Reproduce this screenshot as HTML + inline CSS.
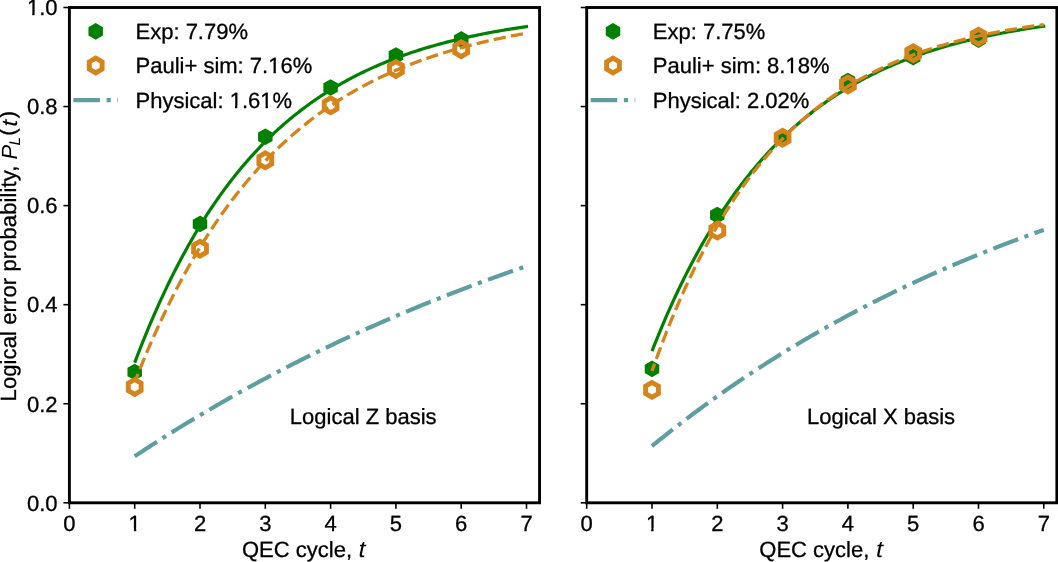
<!DOCTYPE html>
<html><head><meta charset="utf-8"><title>Logical error probability vs QEC cycle</title><style>
html,body{margin:0;padding:0;background:#fff;overflow:hidden;}
#wrap{width:1058px;height:562px;will-change:transform;}
svg{display:block;}
text{font-family:"Liberation Sans", sans-serif;font-size:22px;fill:#000;text-rendering:geometricPrecision;stroke:#000;stroke-width:0.3px;}
text.m{stroke-width:0.0px;}
</style></head><body><div id="wrap">
<svg width="1058" height="562" viewBox="0 0 1058 562">
<rect width="1058" height="562" fill="#fff"/>
<defs><clipPath id="c1_0" clipPathUnits="userSpaceOnUse"><path d="M-2000,-2000 H2000 V2000 H-2000 Z M133.26,-2.45 H138.02 V1.8 H133.26 Z M140.31,-2.45 H144.86 V1.8 H140.31 Z" clip-rule="evenodd"/></clipPath><clipPath id="c1_1" clipPathUnits="userSpaceOnUse"><path d="M-2000,-2000 H2000 V2000 H-2000 Z M94.74,-2.45 H99.50 V1.8 H94.74 Z M101.79,-2.45 H106.34 V1.8 H101.79 Z M125.32,-2.45 H130.08 V1.8 H125.32 Z M132.37,-2.45 H136.92 V1.8 H132.37 Z" clip-rule="evenodd"/></clipPath><clipPath id="c1_2" clipPathUnits="userSpaceOnUse"><path d="M-2000,-2000 H2000 V2000 H-2000 Z M-5.53,-2.45 H-0.76 V1.8 H-5.53 Z M1.53,-2.45 H6.07 V1.8 H1.53 Z" clip-rule="evenodd"/></clipPath><clipPath id="c1_3" clipPathUnits="userSpaceOnUse"><path d="M-2000,-2000 H2000 V2000 H-2000 Z M-29.99,-2.45 H-25.23 V1.8 H-29.99 Z M-22.94,-2.45 H-18.39 V1.8 H-22.94 Z" clip-rule="evenodd"/></clipPath><clipPath id="c1_4" clipPathUnits="userSpaceOnUse"><path d="M-2000,-2000 H2000 V2000 H-2000 Z M133.26,-2.45 H138.02 V1.8 H133.26 Z M140.31,-2.45 H144.86 V1.8 H140.31 Z" clip-rule="evenodd"/></clipPath></defs>
<!-- panel Logical Z basis -->
<path d="M134.70,362.69 L136.34,358.38 L137.98,354.11 L139.62,349.90 L141.25,345.75 L142.89,341.64 L144.53,337.58 L146.17,333.57 L147.81,329.61 L149.45,325.70 L151.09,321.83 L152.73,318.01 L154.37,314.24 L156.00,310.52 L157.64,306.84 L159.28,303.20 L160.92,299.61 L162.56,296.06 L164.20,292.56 L165.84,289.09 L167.48,285.67 L169.11,282.30 L170.75,278.96 L172.39,275.66 L174.03,272.40 L175.67,269.19 L177.31,266.01 L178.95,262.87 L180.58,259.77 L182.22,256.70 L183.86,253.68 L185.50,250.69 L187.14,247.73 L188.78,244.81 L190.42,241.93 L192.06,239.08 L193.69,236.27 L195.33,233.49 L196.97,230.75 L198.61,228.04 L200.25,225.36 L201.89,222.71 L203.53,220.10 L205.17,217.52 L206.81,214.96 L208.44,212.45 L210.08,209.96 L211.72,207.50 L213.36,205.07 L215.00,202.67 L216.64,200.30 L218.28,197.96 L219.91,195.64 L221.55,193.36 L223.19,191.10 L224.83,188.87 L226.47,186.67 L228.11,184.49 L229.75,182.34 L231.39,180.22 L233.03,178.12 L234.66,176.05 L236.30,174.00 L237.94,171.98 L239.58,169.98 L241.22,168.01 L242.86,166.06 L244.50,164.13 L246.14,162.23 L247.77,160.35 L249.41,158.49 L251.05,156.66 L252.69,154.85 L254.33,153.06 L255.97,151.29 L257.61,149.54 L259.25,147.82 L260.88,146.11 L262.52,144.43 L264.16,142.77 L265.80,141.12 L267.44,139.50 L269.08,137.90 L270.72,136.31 L272.36,134.75 L273.99,133.20 L275.63,131.68 L277.27,130.17 L278.91,128.68 L280.55,127.21 L282.19,125.75 L283.83,124.32 L285.47,122.90 L287.10,121.50 L288.74,120.11 L290.38,118.74 L292.02,117.39 L293.66,116.06 L295.30,114.74 L296.94,113.44 L298.57,112.15 L300.21,110.88 L301.85,109.62 L303.49,108.38 L305.13,107.16 L306.77,105.95 L308.41,104.75 L310.05,103.57 L311.69,102.40 L313.32,101.25 L314.96,100.11 L316.60,98.99 L318.24,97.88 L319.88,96.78 L321.52,95.69 L323.16,94.62 L324.79,93.57 L326.43,92.52 L328.07,91.49 L329.71,90.47 L331.35,89.46 L332.99,88.46 L334.63,87.48 L336.27,86.51 L337.90,85.55 L339.54,84.60 L341.18,83.66 L342.82,82.74 L344.46,81.83 L346.10,80.92 L347.74,80.03 L349.38,79.15 L351.01,78.28 L352.65,77.42 L354.29,76.57 L355.93,75.73 L357.57,74.90 L359.21,74.08 L360.85,73.28 L362.49,72.48 L364.12,71.69 L365.76,70.91 L367.40,70.14 L369.04,69.38 L370.68,68.63 L372.32,67.88 L373.96,67.15 L375.60,66.43 L377.24,65.71 L378.87,65.00 L380.51,64.30 L382.15,63.61 L383.79,62.93 L385.43,62.26 L387.07,61.59 L388.71,60.94 L390.35,60.29 L391.98,59.65 L393.62,59.01 L395.26,58.39 L396.90,57.77 L398.54,57.16 L400.18,56.56 L401.82,55.96 L403.46,55.37 L405.09,54.79 L406.73,54.22 L408.37,53.65 L410.01,53.09 L411.65,52.53 L413.29,51.99 L414.93,51.45 L416.57,50.91 L418.20,50.39 L419.84,49.87 L421.48,49.35 L423.12,48.84 L424.76,48.34 L426.40,47.84 L428.04,47.35 L429.68,46.87 L431.31,46.39 L432.95,45.92 L434.59,45.45 L436.23,44.99 L437.87,44.54 L439.51,44.09 L441.15,43.64 L442.79,43.20 L444.42,42.77 L446.06,42.34 L447.70,41.92 L449.34,41.50 L450.98,41.09 L452.62,40.68 L454.26,40.28 L455.89,39.88 L457.53,39.48 L459.17,39.10 L460.81,38.71 L462.45,38.33 L464.09,37.96 L465.73,37.59 L467.37,37.22 L469.00,36.86 L470.64,36.51 L472.28,36.15 L473.92,35.81 L475.56,35.46 L477.20,35.12 L478.84,34.79 L480.48,34.46 L482.12,34.13 L483.75,33.80 L485.39,33.48 L487.03,33.17 L488.67,32.86 L490.31,32.55 L491.95,32.25 L493.59,31.94 L495.23,31.65 L496.86,31.35 L498.50,31.06 L500.14,30.78 L501.78,30.50 L503.42,30.22 L505.06,29.94 L506.70,29.67 L508.33,29.40 L509.97,29.13 L511.61,28.87 L513.25,28.61 L514.89,28.35 L516.53,28.10 L518.17,27.85 L519.81,27.60 L521.44,27.36 L523.08,27.12 L524.72,26.88 L526.36,26.64 L528.00,26.41" fill="none" stroke="#008000" stroke-width="3.2" stroke-linecap="butt" stroke-linejoin="round"/>
<path d="M134.70,364.79 L128.46,368.39 L128.46,375.59 L134.70,379.19 L140.94,375.59 L140.94,368.39 Z" fill="#008000" stroke="#008000" stroke-width="2.0"/>
<path d="M200.00,216.75 L193.76,220.35 L193.76,227.55 L200.00,231.15 L206.24,227.55 L206.24,220.35 Z" fill="#008000" stroke="#008000" stroke-width="2.0"/>
<path d="M265.30,129.57 L259.06,133.17 L259.06,140.37 L265.30,143.97 L271.54,140.37 L271.54,133.17 Z" fill="#008000" stroke="#008000" stroke-width="2.0"/>
<path d="M330.60,80.29 L324.36,83.89 L324.36,91.09 L330.60,94.69 L336.84,91.09 L336.84,83.89 Z" fill="#008000" stroke="#008000" stroke-width="2.0"/>
<path d="M395.90,48.34 L389.66,51.94 L389.66,59.14 L395.90,62.74 L402.14,59.14 L402.14,51.94 Z" fill="#008000" stroke="#008000" stroke-width="2.0"/>
<path d="M461.20,32.25 L454.96,35.85 L454.96,43.05 L461.20,46.65 L467.44,43.05 L467.44,35.85 Z" fill="#008000" stroke="#008000" stroke-width="2.0"/>
<path d="M134.70,379.50 L128.29,383.20 L128.29,390.60 L134.70,394.30 L141.11,390.60 L141.11,383.20 Z" fill="none" stroke="#d5831a" stroke-width="4.9"/>
<path d="M200.00,241.31 L193.59,245.01 L193.59,252.41 L200.00,256.11 L206.41,252.41 L206.41,245.01 Z" fill="none" stroke="#d5831a" stroke-width="4.9"/>
<path d="M265.30,152.90 L258.89,156.60 L258.89,164.00 L265.30,167.70 L271.71,164.00 L271.71,156.60 Z" fill="none" stroke="#d5831a" stroke-width="4.9"/>
<path d="M330.60,97.92 L324.19,101.62 L324.19,109.02 L330.60,112.72 L337.01,109.02 L337.01,101.62 Z" fill="none" stroke="#d5831a" stroke-width="4.9"/>
<path d="M395.90,61.52 L389.49,65.22 L389.49,72.62 L395.90,76.32 L402.31,72.62 L402.31,65.22 Z" fill="none" stroke="#d5831a" stroke-width="4.9"/>
<path d="M461.20,41.80 L454.79,45.50 L454.79,52.90 L461.20,56.60 L467.61,52.90 L467.61,45.50 Z" fill="none" stroke="#d5831a" stroke-width="4.9"/>
<path d="M134.70,382.18 L136.33,378.03 L137.97,373.92 L139.60,369.85 L141.23,365.83 L142.86,361.85 L144.50,357.92 L146.13,354.04 L147.76,350.19 L149.39,346.39 L151.03,342.63 L152.66,338.91 L154.29,335.23 L155.92,331.60 L157.56,328.00 L159.19,324.44 L160.82,320.93 L162.45,317.45 L164.08,314.01 L165.72,310.61 L167.35,307.25 L168.98,303.92 L170.62,300.63 L172.25,297.38 L173.88,294.16 L175.51,290.98 L177.14,287.84 L178.78,284.73 L180.41,281.65 L182.04,278.61 L183.68,275.60 L185.31,272.63 L186.94,269.69 L188.57,266.78 L190.21,263.90 L191.84,261.06 L193.47,258.24 L195.10,255.46 L196.74,252.71 L198.37,249.99 L200.00,247.30 L201.63,244.64 L203.26,242.01 L204.90,239.40 L206.53,236.83 L208.16,234.29 L209.79,231.77 L211.43,229.28 L213.06,226.82 L214.69,224.39 L216.32,221.98 L217.96,219.60 L219.59,217.25 L221.22,214.92 L222.86,212.62 L224.49,210.34 L226.12,208.09 L227.75,205.87 L229.39,203.67 L231.02,201.49 L232.65,199.34 L234.28,197.21 L235.91,195.11 L237.55,193.02 L239.18,190.97 L240.81,188.93 L242.44,186.92 L244.08,184.93 L245.71,182.96 L247.34,181.01 L248.97,179.09 L250.61,177.18 L252.24,175.30 L253.87,173.44 L255.50,171.60 L257.14,169.78 L258.77,167.98 L260.40,166.19 L262.03,164.43 L263.67,162.69 L265.30,160.97 L266.93,159.27 L268.56,157.58 L270.20,155.92 L271.83,154.27 L273.46,152.64 L275.10,151.03 L276.73,149.44 L278.36,147.87 L279.99,146.31 L281.62,144.77 L283.26,143.25 L284.89,141.74 L286.52,140.25 L288.15,138.78 L289.79,137.32 L291.42,135.88 L293.05,134.46 L294.69,133.05 L296.32,131.65 L297.95,130.28 L299.58,128.91 L301.21,127.57 L302.85,126.24 L304.48,124.92 L306.11,123.61 L307.75,122.33 L309.38,121.05 L311.01,119.79 L312.64,118.55 L314.27,117.31 L315.91,116.10 L317.54,114.89 L319.17,113.70 L320.81,112.52 L322.44,111.36 L324.07,110.20 L325.70,109.06 L327.34,107.94 L328.97,106.82 L330.60,105.72 L332.23,104.63 L333.87,103.55 L335.50,102.49 L337.13,101.43 L338.76,100.39 L340.39,99.36 L342.03,98.34 L343.66,97.33 L345.29,96.34 L346.92,95.35 L348.56,94.38 L350.19,93.41 L351.82,92.46 L353.45,91.52 L355.09,90.59 L356.72,89.66 L358.35,88.75 L359.99,87.85 L361.62,86.96 L363.25,86.08 L364.88,85.21 L366.51,84.34 L368.15,83.49 L369.78,82.65 L371.41,81.81 L373.04,80.99 L374.68,80.17 L376.31,79.37 L377.94,78.57 L379.58,77.78 L381.21,77.00 L382.84,76.23 L384.47,75.47 L386.11,74.71 L387.74,73.97 L389.37,73.23 L391.00,72.50 L392.63,71.78 L394.27,71.07 L395.90,70.36 L397.53,69.66 L399.16,68.97 L400.80,68.29 L402.43,67.62 L404.06,66.95 L405.70,66.29 L407.33,65.64 L408.96,64.99 L410.59,64.36 L412.23,63.73 L413.86,63.10 L415.49,62.48 L417.12,61.87 L418.75,61.27 L420.39,60.67 L422.02,60.08 L423.65,59.50 L425.28,58.92 L426.92,58.35 L428.55,57.79 L430.18,57.23 L431.81,56.68 L433.45,56.13 L435.08,55.59 L436.71,55.06 L438.35,54.53 L439.98,54.01 L441.61,53.50 L443.24,52.98 L444.88,52.48 L446.51,51.98 L448.14,51.49 L449.77,51.00 L451.40,50.52 L453.04,50.04 L454.67,49.57 L456.30,49.10 L457.93,48.64 L459.57,48.18 L461.20,47.73 L462.83,47.29 L464.47,46.84 L466.10,46.41 L467.73,45.98 L469.36,45.55 L471.00,45.13 L472.63,44.71 L474.26,44.30 L475.89,43.89 L477.52,43.48 L479.16,43.08 L480.79,42.69 L482.42,42.30 L484.05,41.91 L485.69,41.53 L487.32,41.15 L488.95,40.78 L490.59,40.41 L492.22,40.05 L493.85,39.69 L495.48,39.33 L497.12,38.97 L498.75,38.63 L500.38,38.28 L502.01,37.94 L503.64,37.60 L505.28,37.27 L506.91,36.94 L508.54,36.61 L510.17,36.29 L511.81,35.97 L513.44,35.65 L515.07,35.34 L516.70,35.03 L518.34,34.73 L519.97,34.42 L521.60,34.12 L523.24,33.83 L524.87,33.54 L526.50,33.25" fill="none" stroke="#d5831a" stroke-width="3.3" stroke-dasharray="12.21 5.28" stroke-dashoffset="3.4" stroke-linecap="butt" stroke-linejoin="round"/>
<path d="M134.70,456.30 L136.33,455.22 L137.97,454.14 L139.60,453.06 L141.23,451.99 L142.86,450.92 L144.50,449.85 L146.13,448.78 L147.76,447.72 L149.39,446.66 L151.03,445.60 L152.66,444.55 L154.29,443.50 L155.92,442.45 L157.56,441.41 L159.19,440.36 L160.82,439.32 L162.45,438.29 L164.08,437.25 L165.72,436.22 L167.35,435.19 L168.98,434.17 L170.62,433.15 L172.25,432.13 L173.88,431.11 L175.51,430.10 L177.14,429.09 L178.78,428.08 L180.41,427.07 L182.04,426.07 L183.68,425.07 L185.31,424.07 L186.94,423.08 L188.57,422.09 L190.21,421.10 L191.84,420.11 L193.47,419.13 L195.10,418.15 L196.74,417.17 L198.37,416.20 L200.00,415.22 L201.63,414.25 L203.26,413.29 L204.90,412.32 L206.53,411.36 L208.16,410.40 L209.79,409.44 L211.43,408.49 L213.06,407.54 L214.69,406.59 L216.32,405.65 L217.96,404.70 L219.59,403.76 L221.22,402.82 L222.86,401.89 L224.49,400.96 L226.12,400.03 L227.75,399.10 L229.39,398.17 L231.02,397.25 L232.65,396.33 L234.28,395.41 L235.91,394.50 L237.55,393.59 L239.18,392.68 L240.81,391.77 L242.44,390.86 L244.08,389.96 L245.71,389.06 L247.34,388.16 L248.97,387.27 L250.61,386.38 L252.24,385.49 L253.87,384.60 L255.50,383.71 L257.14,382.83 L258.77,381.95 L260.40,381.07 L262.03,380.20 L263.67,379.33 L265.30,378.46 L266.93,377.59 L268.56,376.72 L270.20,375.86 L271.83,375.00 L273.46,374.14 L275.10,373.28 L276.73,372.43 L278.36,371.58 L279.99,370.73 L281.62,369.88 L283.26,369.04 L284.89,368.20 L286.52,367.36 L288.15,366.52 L289.79,365.69 L291.42,364.85 L293.05,364.02 L294.69,363.19 L296.32,362.37 L297.95,361.55 L299.58,360.72 L301.21,359.91 L302.85,359.09 L304.48,358.27 L306.11,357.46 L307.75,356.65 L309.38,355.85 L311.01,355.04 L312.64,354.24 L314.27,353.44 L315.91,352.64 L317.54,351.84 L319.17,351.05 L320.81,350.25 L322.44,349.46 L324.07,348.68 L325.70,347.89 L327.34,347.11 L328.97,346.33 L330.60,345.55 L332.23,344.77 L333.87,344.00 L335.50,343.22 L337.13,342.45 L338.76,341.69 L340.39,340.92 L342.03,340.16 L343.66,339.39 L345.29,338.63 L346.92,337.88 L348.56,337.12 L350.19,336.37 L351.82,335.62 L353.45,334.87 L355.09,334.12 L356.72,333.37 L358.35,332.63 L359.99,331.89 L361.62,331.15 L363.25,330.41 L364.88,329.68 L366.51,328.95 L368.15,328.22 L369.78,327.49 L371.41,326.76 L373.04,326.04 L374.68,325.31 L376.31,324.59 L377.94,323.87 L379.58,323.16 L381.21,322.44 L382.84,321.73 L384.47,321.02 L386.11,320.31 L387.74,319.60 L389.37,318.90 L391.00,318.19 L392.63,317.49 L394.27,316.79 L395.90,316.10 L397.53,315.40 L399.16,314.71 L400.80,314.02 L402.43,313.33 L404.06,312.64 L405.70,311.95 L407.33,311.27 L408.96,310.59 L410.59,309.91 L412.23,309.23 L413.86,308.55 L415.49,307.88 L417.12,307.21 L418.75,306.54 L420.39,305.87 L422.02,305.20 L423.65,304.54 L425.28,303.87 L426.92,303.21 L428.55,302.55 L430.18,301.89 L431.81,301.24 L433.45,300.58 L435.08,299.93 L436.71,299.28 L438.35,298.63 L439.98,297.99 L441.61,297.34 L443.24,296.70 L444.88,296.06 L446.51,295.42 L448.14,294.78 L449.77,294.14 L451.40,293.51 L453.04,292.87 L454.67,292.24 L456.30,291.61 L457.93,290.99 L459.57,290.36 L461.20,289.74 L462.83,289.11 L464.47,288.49 L466.10,287.88 L467.73,287.26 L469.36,286.64 L471.00,286.03 L472.63,285.42 L474.26,284.81 L475.89,284.20 L477.52,283.59 L479.16,282.99 L480.79,282.38 L482.42,281.78 L484.05,281.18 L485.69,280.58 L487.32,279.99 L488.95,279.39 L490.59,278.80 L492.22,278.20 L493.85,277.61 L495.48,277.03 L497.12,276.44 L498.75,275.85 L500.38,275.27 L502.01,274.69 L503.64,274.11 L505.28,273.53 L506.91,272.95 L508.54,272.37 L510.17,271.80 L511.81,271.23 L513.44,270.66 L515.07,270.09 L516.70,269.52 L518.34,268.95 L519.97,268.39 L521.60,267.83 L523.24,267.26 L524.87,266.70 L526.50,266.15" fill="none" stroke="#5f9ea0" stroke-width="4.15" stroke-dasharray="26.56 6.64 4.15 6.64" stroke-linecap="butt" stroke-linejoin="round"/>
<text transform="translate(289.80,423.70)">Logical Z basis</text>
<path d="M95.70,24.15 L89.46,27.75 L89.46,34.95 L95.70,38.55 L101.94,34.95 L101.94,27.75 Z" fill="#008000" stroke="#008000" stroke-width="2.0"/>
<path d="M95.70,58.10 L89.29,61.80 L89.29,69.20 L95.70,72.90 L102.11,69.20 L102.11,61.80 Z" fill="none" stroke="#d5831a" stroke-width="4.9"/>
<path d="M73.40,100.1 L118.00,100.1" fill="none" stroke="#5f9ea0" stroke-width="4.15" stroke-dasharray="26.56 6.64 4.15 6.64"/>
<text transform="translate(135.50,38.80)">Exp: 7.79%</text>
<text transform="translate(135.50,73.10)" clip-path="url(#c1_0)">Pauli+ sim: 7.16%</text>
<text transform="translate(135.50,107.90)" clip-path="url(#c1_1)">Physical: 1.61%</text>
<rect x="69.40" y="7.50" width="470.16" height="495.30" fill="none" stroke="#000" stroke-width="2.9" stroke-linejoin="miter"/>
<line x1="69.40" y1="502.80" x2="69.40" y2="508.80" stroke="#000" stroke-width="1.6"/>
<text transform="translate(69.40,530.50)" text-anchor="middle">0</text>
<line x1="134.70" y1="502.80" x2="134.70" y2="508.80" stroke="#000" stroke-width="1.6"/>
<text transform="translate(134.70,530.50)" text-anchor="middle" clip-path="url(#c1_2)">1</text>
<line x1="200.00" y1="502.80" x2="200.00" y2="508.80" stroke="#000" stroke-width="1.6"/>
<text transform="translate(200.00,530.50)" text-anchor="middle">2</text>
<line x1="265.30" y1="502.80" x2="265.30" y2="508.80" stroke="#000" stroke-width="1.6"/>
<text transform="translate(265.30,530.50)" text-anchor="middle">3</text>
<line x1="330.60" y1="502.80" x2="330.60" y2="508.80" stroke="#000" stroke-width="1.6"/>
<text transform="translate(330.60,530.50)" text-anchor="middle">4</text>
<line x1="395.90" y1="502.80" x2="395.90" y2="508.80" stroke="#000" stroke-width="1.6"/>
<text transform="translate(395.90,530.50)" text-anchor="middle">5</text>
<line x1="461.20" y1="502.80" x2="461.20" y2="508.80" stroke="#000" stroke-width="1.6"/>
<text transform="translate(461.20,530.50)" text-anchor="middle">6</text>
<line x1="526.50" y1="502.80" x2="526.50" y2="508.80" stroke="#000" stroke-width="1.6"/>
<text transform="translate(526.50,530.50)" text-anchor="middle">7</text>
<line x1="63.40" y1="502.80" x2="69.40" y2="502.80" stroke="#000" stroke-width="1.6"/>
<text transform="translate(57.50,510.60)" text-anchor="end">0.0</text>
<line x1="63.40" y1="403.74" x2="69.40" y2="403.74" stroke="#000" stroke-width="1.6"/>
<text transform="translate(57.50,411.54)" text-anchor="end">0.2</text>
<line x1="63.40" y1="304.68" x2="69.40" y2="304.68" stroke="#000" stroke-width="1.6"/>
<text transform="translate(57.50,312.48)" text-anchor="end">0.4</text>
<line x1="63.40" y1="205.62" x2="69.40" y2="205.62" stroke="#000" stroke-width="1.6"/>
<text transform="translate(57.50,213.42)" text-anchor="end">0.6</text>
<line x1="63.40" y1="106.56" x2="69.40" y2="106.56" stroke="#000" stroke-width="1.6"/>
<text transform="translate(57.50,114.36)" text-anchor="end">0.8</text>
<line x1="63.40" y1="7.50" x2="69.40" y2="7.50" stroke="#000" stroke-width="1.6"/>
<text transform="translate(57.50,15.30)" text-anchor="end" clip-path="url(#c1_3)">1.0</text>
<text transform="translate(241.98,557.00)">QEC cycle,</text>
<text transform="translate(358.58,557.00) scale(1.15,1.05)" font-style="italic" class="m">t</text>
<!-- panel Logical X basis -->
<path d="M652.00,351.05 L653.64,346.90 L655.28,342.79 L656.92,338.74 L658.56,334.74 L660.19,330.78 L661.83,326.88 L663.47,323.02 L665.11,319.20 L666.75,315.44 L668.39,311.72 L670.03,308.04 L671.67,304.41 L673.30,300.82 L674.94,297.27 L676.58,293.77 L678.22,290.31 L679.86,286.89 L681.50,283.52 L683.14,280.18 L684.78,276.89 L686.41,273.63 L688.05,270.41 L689.69,267.24 L691.33,264.10 L692.97,261.00 L694.61,257.93 L696.25,254.91 L697.88,251.92 L699.52,248.96 L701.16,246.04 L702.80,243.16 L704.44,240.31 L706.08,237.50 L707.72,234.72 L709.36,231.97 L711.00,229.26 L712.63,226.58 L714.27,223.93 L715.91,221.32 L717.55,218.73 L719.19,216.18 L720.83,213.66 L722.47,211.17 L724.11,208.71 L725.74,206.27 L727.38,203.87 L729.02,201.50 L730.66,199.15 L732.30,196.84 L733.94,194.55 L735.58,192.29 L737.22,190.06 L738.85,187.85 L740.49,185.67 L742.13,183.52 L743.77,181.39 L745.41,179.29 L747.05,177.21 L748.69,175.16 L750.33,173.13 L751.96,171.13 L753.60,169.15 L755.24,167.20 L756.88,165.27 L758.52,163.36 L760.16,161.48 L761.80,159.62 L763.44,157.78 L765.07,155.97 L766.71,154.17 L768.35,152.40 L769.99,150.65 L771.63,148.92 L773.27,147.21 L774.91,145.52 L776.55,143.85 L778.18,142.20 L779.82,140.58 L781.46,138.97 L783.10,137.38 L784.74,135.81 L786.38,134.26 L788.02,132.73 L789.65,131.21 L791.29,129.72 L792.93,128.24 L794.57,126.78 L796.21,125.34 L797.85,123.92 L799.49,122.51 L801.13,121.12 L802.77,119.75 L804.40,118.39 L806.04,117.05 L807.68,115.73 L809.32,114.42 L810.96,113.13 L812.60,111.85 L814.24,110.59 L815.88,109.34 L817.51,108.11 L819.15,106.89 L820.79,105.69 L822.43,104.51 L824.07,103.33 L825.71,102.18 L827.35,101.03 L828.99,99.90 L830.62,98.79 L832.26,97.68 L833.90,96.59 L835.54,95.52 L837.18,94.45 L838.82,93.40 L840.46,92.36 L842.10,91.34 L843.73,90.32 L845.37,89.32 L847.01,88.33 L848.65,87.36 L850.29,86.39 L851.93,85.44 L853.57,84.50 L855.21,83.57 L856.84,82.65 L858.48,81.74 L860.12,80.84 L861.76,79.95 L863.40,79.08 L865.04,78.21 L866.68,77.36 L868.32,76.52 L869.95,75.68 L871.59,74.86 L873.23,74.04 L874.87,73.24 L876.51,72.44 L878.15,71.66 L879.79,70.88 L881.42,70.12 L883.06,69.36 L884.70,68.61 L886.34,67.88 L887.98,67.15 L889.62,66.42 L891.26,65.71 L892.90,65.01 L894.54,64.31 L896.17,63.63 L897.81,62.95 L899.45,62.28 L901.09,61.62 L902.73,60.96 L904.37,60.32 L906.01,59.68 L907.64,59.05 L909.28,58.42 L910.92,57.81 L912.56,57.20 L914.20,56.60 L915.84,56.01 L917.48,55.42 L919.12,54.84 L920.76,54.27 L922.39,53.70 L924.03,53.15 L925.67,52.59 L927.31,52.05 L928.95,51.51 L930.59,50.98 L932.23,50.45 L933.87,49.93 L935.50,49.42 L937.14,48.92 L938.78,48.41 L940.42,47.92 L942.06,47.43 L943.70,46.95 L945.34,46.47 L946.98,46.00 L948.61,45.54 L950.25,45.08 L951.89,44.62 L953.53,44.17 L955.17,43.73 L956.81,43.29 L958.45,42.86 L960.09,42.43 L961.72,42.01 L963.36,41.59 L965.00,41.18 L966.64,40.77 L968.28,40.37 L969.92,39.97 L971.56,39.58 L973.20,39.19 L974.83,38.81 L976.47,38.43 L978.11,38.06 L979.75,37.69 L981.39,37.33 L983.03,36.96 L984.67,36.61 L986.31,36.26 L987.94,35.91 L989.58,35.57 L991.22,35.23 L992.86,34.89 L994.50,34.56 L996.14,34.23 L997.78,33.91 L999.41,33.59 L1001.05,33.28 L1002.69,32.96 L1004.33,32.66 L1005.97,32.35 L1007.61,32.05 L1009.25,31.76 L1010.89,31.46 L1012.53,31.17 L1014.16,30.89 L1015.80,30.60 L1017.44,30.32 L1019.08,30.05 L1020.72,29.78 L1022.36,29.51 L1024.00,29.24 L1025.63,28.98 L1027.27,28.72 L1028.91,28.46 L1030.55,28.21 L1032.19,27.96 L1033.83,27.71 L1035.47,27.47 L1037.11,27.23 L1038.74,26.99 L1040.38,26.75 L1042.02,26.52 L1043.66,26.29 L1045.30,26.06" fill="none" stroke="#008000" stroke-width="3.2" stroke-linecap="butt" stroke-linejoin="round"/>
<path d="M652.00,361.62 L645.76,365.22 L645.76,372.42 L652.00,376.02 L658.24,372.42 L658.24,365.22 Z" fill="#008000" stroke="#008000" stroke-width="2.0"/>
<path d="M717.30,207.83 L711.06,211.43 L711.06,218.63 L717.30,222.23 L723.54,218.63 L723.54,211.43 Z" fill="#008000" stroke="#008000" stroke-width="2.0"/>
<path d="M782.60,129.57 L776.36,133.17 L776.36,140.37 L782.60,143.97 L788.84,140.37 L788.84,133.17 Z" fill="#008000" stroke="#008000" stroke-width="2.0"/>
<path d="M847.90,73.85 L841.66,77.45 L841.66,84.65 L847.90,88.25 L854.14,84.65 L854.14,77.45 Z" fill="#008000" stroke="#008000" stroke-width="2.0"/>
<path d="M913.20,49.83 L906.96,53.43 L906.96,60.63 L913.20,64.23 L919.44,60.63 L919.44,53.43 Z" fill="#008000" stroke="#008000" stroke-width="2.0"/>
<path d="M978.50,32.49 L972.26,36.09 L972.26,43.29 L978.50,46.89 L984.74,43.29 L984.74,36.09 Z" fill="#008000" stroke="#008000" stroke-width="2.0"/>
<path d="M652.00,382.47 L645.59,386.17 L645.59,393.57 L652.00,397.27 L658.41,393.57 L658.41,386.17 Z" fill="none" stroke="#d5831a" stroke-width="4.9"/>
<path d="M717.30,223.18 L710.89,226.88 L710.89,234.28 L717.30,237.98 L723.71,234.28 L723.71,226.88 Z" fill="none" stroke="#d5831a" stroke-width="4.9"/>
<path d="M782.60,130.36 L776.19,134.06 L776.19,141.46 L782.60,145.16 L789.01,141.46 L789.01,134.06 Z" fill="none" stroke="#d5831a" stroke-width="4.9"/>
<path d="M847.90,77.07 L841.49,80.77 L841.49,88.17 L847.90,91.87 L854.31,88.17 L854.31,80.77 Z" fill="none" stroke="#d5831a" stroke-width="4.9"/>
<path d="M913.20,45.82 L906.79,49.52 L906.79,56.92 L913.20,60.62 L919.61,56.92 L919.61,49.52 Z" fill="none" stroke="#d5831a" stroke-width="4.9"/>
<path d="M978.50,29.32 L972.09,33.02 L972.09,40.42 L978.50,44.12 L984.91,40.42 L984.91,33.02 Z" fill="none" stroke="#d5831a" stroke-width="4.9"/>
<path d="M652.00,370.96 L653.63,366.36 L655.27,361.83 L656.90,357.34 L658.53,352.92 L660.16,348.55 L661.80,344.24 L663.43,339.98 L665.06,335.77 L666.69,331.62 L668.33,327.52 L669.96,323.47 L671.59,319.48 L673.22,315.53 L674.86,311.63 L676.49,307.79 L678.12,303.99 L679.75,300.24 L681.38,296.54 L683.02,292.88 L684.65,289.27 L686.28,285.71 L687.92,282.19 L689.55,278.71 L691.18,275.28 L692.81,271.90 L694.45,268.55 L696.08,265.25 L697.71,261.99 L699.34,258.77 L700.98,255.59 L702.61,252.45 L704.24,249.36 L705.87,246.30 L707.51,243.28 L709.14,240.29 L710.77,237.35 L712.40,234.44 L714.04,231.57 L715.67,228.74 L717.30,225.94 L718.93,223.18 L720.57,220.45 L722.20,217.76 L723.83,215.10 L725.46,212.47 L727.10,209.88 L728.73,207.32 L730.36,204.79 L731.99,202.30 L733.62,199.83 L735.26,197.40 L736.89,195.00 L738.52,192.63 L740.16,190.28 L741.79,187.97 L743.42,185.69 L745.05,183.44 L746.69,181.21 L748.32,179.01 L749.95,176.84 L751.58,174.70 L753.22,172.59 L754.85,170.50 L756.48,168.44 L758.11,166.40 L759.75,164.39 L761.38,162.41 L763.01,160.45 L764.64,158.51 L766.28,156.60 L767.91,154.72 L769.54,152.86 L771.17,151.02 L772.81,149.20 L774.44,147.41 L776.07,145.64 L777.70,143.89 L779.34,142.17 L780.97,140.46 L782.60,138.78 L784.23,137.12 L785.87,135.48 L787.50,133.86 L789.13,132.27 L790.76,130.69 L792.39,129.13 L794.03,127.59 L795.66,126.07 L797.29,124.57 L798.93,123.09 L800.56,121.63 L802.19,120.19 L803.82,118.76 L805.46,117.35 L807.09,115.96 L808.72,114.59 L810.35,113.24 L811.99,111.90 L813.62,110.58 L815.25,109.28 L816.88,107.99 L818.51,106.72 L820.15,105.46 L821.78,104.22 L823.41,103.00 L825.05,101.79 L826.68,100.60 L828.31,99.42 L829.94,98.26 L831.58,97.11 L833.21,95.98 L834.84,94.86 L836.47,93.75 L838.11,92.66 L839.74,91.59 L841.37,90.52 L843.00,89.47 L844.63,88.44 L846.27,87.41 L847.90,86.40 L849.53,85.40 L851.16,84.42 L852.80,83.44 L854.43,82.48 L856.06,81.54 L857.70,80.60 L859.33,79.67 L860.96,78.76 L862.59,77.86 L864.23,76.97 L865.86,76.09 L867.49,75.22 L869.12,74.37 L870.75,73.52 L872.39,72.69 L874.02,71.86 L875.65,71.05 L877.29,70.24 L878.92,69.45 L880.55,68.67 L882.18,67.89 L883.82,67.13 L885.45,66.38 L887.08,65.63 L888.71,64.90 L890.35,64.17 L891.98,63.45 L893.61,62.75 L895.24,62.05 L896.88,61.36 L898.51,60.68 L900.14,60.00 L901.77,59.34 L903.40,58.68 L905.04,58.04 L906.67,57.40 L908.30,56.77 L909.94,56.14 L911.57,55.53 L913.20,54.92 L914.83,54.32 L916.47,53.73 L918.10,53.14 L919.73,52.57 L921.36,52.00 L923.00,51.43 L924.63,50.88 L926.26,50.33 L927.89,49.79 L929.53,49.25 L931.16,48.72 L932.79,48.20 L934.42,47.69 L936.06,47.18 L937.69,46.68 L939.32,46.18 L940.95,45.69 L942.59,45.21 L944.22,44.73 L945.85,44.26 L947.48,43.80 L949.12,43.34 L950.75,42.88 L952.38,42.44 L954.01,41.99 L955.64,41.56 L957.28,41.13 L958.91,40.70 L960.54,40.28 L962.17,39.87 L963.81,39.46 L965.44,39.05 L967.07,38.66 L968.70,38.26 L970.34,37.87 L971.97,37.49 L973.60,37.11 L975.24,36.73 L976.87,36.36 L978.50,36.00 L980.13,35.64 L981.77,35.28 L983.40,34.93 L985.03,34.58 L986.66,34.24 L988.30,33.90 L989.93,33.57 L991.56,33.24 L993.19,32.91 L994.83,32.59 L996.46,32.28 L998.09,31.96 L999.72,31.65 L1001.36,31.35 L1002.99,31.05 L1004.62,30.75 L1006.25,30.45 L1007.88,30.16 L1009.52,29.88 L1011.15,29.59 L1012.78,29.31 L1014.41,29.04 L1016.05,28.77 L1017.68,28.50 L1019.31,28.23 L1020.95,27.97 L1022.58,27.71 L1024.21,27.45 L1025.84,27.20 L1027.47,26.95 L1029.11,26.71 L1030.74,26.46 L1032.37,26.22 L1034.01,25.99 L1035.64,25.75 L1037.27,25.52 L1038.90,25.29 L1040.54,25.07 L1042.17,24.85 L1043.80,24.63" fill="none" stroke="#d5831a" stroke-width="3.3" stroke-dasharray="12.21 5.28" stroke-dashoffset="4.6" stroke-linecap="butt" stroke-linejoin="round"/>
<path d="M652.00,446.02 L653.63,444.69 L655.27,443.37 L656.90,442.05 L658.53,440.73 L660.16,439.42 L661.80,438.11 L663.43,436.81 L665.06,435.51 L666.69,434.22 L668.33,432.93 L669.96,431.65 L671.59,430.37 L673.22,429.09 L674.86,427.82 L676.49,426.55 L678.12,425.29 L679.75,424.04 L681.38,422.78 L683.02,421.53 L684.65,420.29 L686.28,419.05 L687.92,417.81 L689.55,416.58 L691.18,415.36 L692.81,414.13 L694.45,412.91 L696.08,411.70 L697.71,410.49 L699.34,409.28 L700.98,408.08 L702.61,406.89 L704.24,405.69 L705.87,404.50 L707.51,403.32 L709.14,402.14 L710.77,400.96 L712.40,399.79 L714.04,398.62 L715.67,397.46 L717.30,396.30 L718.93,395.14 L720.57,393.99 L722.20,392.84 L723.83,391.70 L725.46,390.56 L727.10,389.42 L728.73,388.29 L730.36,387.16 L731.99,386.04 L733.62,384.92 L735.26,383.80 L736.89,382.69 L738.52,381.58 L740.16,380.48 L741.79,379.38 L743.42,378.28 L745.05,377.19 L746.69,376.10 L748.32,375.02 L749.95,373.94 L751.58,372.86 L753.22,371.78 L754.85,370.71 L756.48,369.65 L758.11,368.59 L759.75,367.53 L761.38,366.47 L763.01,365.42 L764.64,364.37 L766.28,363.33 L767.91,362.29 L769.54,361.25 L771.17,360.22 L772.81,359.19 L774.44,358.16 L776.07,357.14 L777.70,356.12 L779.34,355.11 L780.97,354.10 L782.60,353.09 L784.23,352.08 L785.87,351.08 L787.50,350.08 L789.13,349.09 L790.76,348.10 L792.39,347.11 L794.03,346.13 L795.66,345.15 L797.29,344.17 L798.93,343.20 L800.56,342.23 L802.19,341.26 L803.82,340.30 L805.46,339.34 L807.09,338.38 L808.72,337.43 L810.35,336.48 L811.99,335.54 L813.62,334.59 L815.25,333.65 L816.88,332.72 L818.51,331.78 L820.15,330.85 L821.78,329.93 L823.41,329.00 L825.05,328.08 L826.68,327.17 L828.31,326.25 L829.94,325.34 L831.58,324.44 L833.21,323.53 L834.84,322.63 L836.47,321.73 L838.11,320.84 L839.74,319.95 L841.37,319.06 L843.00,318.17 L844.63,317.29 L846.27,316.41 L847.90,315.54 L849.53,314.66 L851.16,313.79 L852.80,312.93 L854.43,312.06 L856.06,311.20 L857.70,310.35 L859.33,309.49 L860.96,308.64 L862.59,307.79 L864.23,306.94 L865.86,306.10 L867.49,305.26 L869.12,304.42 L870.75,303.59 L872.39,302.76 L874.02,301.93 L875.65,301.11 L877.29,300.28 L878.92,299.46 L880.55,298.65 L882.18,297.83 L883.82,297.02 L885.45,296.22 L887.08,295.41 L888.71,294.61 L890.35,293.81 L891.98,293.01 L893.61,292.22 L895.24,291.43 L896.88,290.64 L898.51,289.85 L900.14,289.07 L901.77,288.29 L903.40,287.51 L905.04,286.74 L906.67,285.97 L908.30,285.20 L909.94,284.43 L911.57,283.67 L913.20,282.91 L914.83,282.15 L916.47,281.39 L918.10,280.64 L919.73,279.89 L921.36,279.14 L923.00,278.39 L924.63,277.65 L926.26,276.91 L927.89,276.17 L929.53,275.44 L931.16,274.71 L932.79,273.98 L934.42,273.25 L936.06,272.52 L937.69,271.80 L939.32,271.08 L940.95,270.37 L942.59,269.65 L944.22,268.94 L945.85,268.23 L947.48,267.52 L949.12,266.82 L950.75,266.12 L952.38,265.42 L954.01,264.72 L955.64,264.02 L957.28,263.33 L958.91,262.64 L960.54,261.95 L962.17,261.27 L963.81,260.59 L965.44,259.91 L967.07,259.23 L968.70,258.55 L970.34,257.88 L971.97,257.21 L973.60,256.54 L975.24,255.87 L976.87,255.21 L978.50,254.55 L980.13,253.89 L981.77,253.23 L983.40,252.58 L985.03,251.93 L986.66,251.28 L988.30,250.63 L989.93,249.98 L991.56,249.34 L993.19,248.70 L994.83,248.06 L996.46,247.42 L998.09,246.79 L999.72,246.16 L1001.36,245.53 L1002.99,244.90 L1004.62,244.27 L1006.25,243.65 L1007.88,243.03 L1009.52,242.41 L1011.15,241.79 L1012.78,241.18 L1014.41,240.57 L1016.05,239.96 L1017.68,239.35 L1019.31,238.74 L1020.95,238.14 L1022.58,237.54 L1024.21,236.94 L1025.84,236.34 L1027.47,235.75 L1029.11,235.15 L1030.74,234.56 L1032.37,233.97 L1034.01,233.39 L1035.64,232.80 L1037.27,232.22 L1038.90,231.64 L1040.54,231.06 L1042.17,230.48 L1043.80,229.91" fill="none" stroke="#5f9ea0" stroke-width="4.15" stroke-dasharray="26.56 6.64 4.15 6.64" stroke-linecap="butt" stroke-linejoin="round"/>
<text transform="translate(807.10,423.70)">Logical X basis</text>
<path d="M613.00,24.15 L606.76,27.75 L606.76,34.95 L613.00,38.55 L619.24,34.95 L619.24,27.75 Z" fill="#008000" stroke="#008000" stroke-width="2.0"/>
<path d="M613.00,58.10 L606.59,61.80 L606.59,69.20 L613.00,72.90 L619.41,69.20 L619.41,61.80 Z" fill="none" stroke="#d5831a" stroke-width="4.9"/>
<path d="M590.70,100.1 L635.30,100.1" fill="none" stroke="#5f9ea0" stroke-width="4.15" stroke-dasharray="26.56 6.64 4.15 6.64"/>
<text transform="translate(652.80,38.80)">Exp: 7.75%</text>
<text transform="translate(652.80,73.10)" clip-path="url(#c1_4)">Pauli+ sim: 8.18%</text>
<text transform="translate(652.80,107.90)">Physical: 2.02%</text>
<rect x="586.70" y="7.50" width="470.16" height="495.30" fill="none" stroke="#000" stroke-width="2.9" stroke-linejoin="miter"/>
<line x1="586.70" y1="502.80" x2="586.70" y2="508.80" stroke="#000" stroke-width="1.6"/>
<text transform="translate(586.70,530.50)" text-anchor="middle">0</text>
<line x1="652.00" y1="502.80" x2="652.00" y2="508.80" stroke="#000" stroke-width="1.6"/>
<text transform="translate(652.00,530.50)" text-anchor="middle" clip-path="url(#c1_2)">1</text>
<line x1="717.30" y1="502.80" x2="717.30" y2="508.80" stroke="#000" stroke-width="1.6"/>
<text transform="translate(717.30,530.50)" text-anchor="middle">2</text>
<line x1="782.60" y1="502.80" x2="782.60" y2="508.80" stroke="#000" stroke-width="1.6"/>
<text transform="translate(782.60,530.50)" text-anchor="middle">3</text>
<line x1="847.90" y1="502.80" x2="847.90" y2="508.80" stroke="#000" stroke-width="1.6"/>
<text transform="translate(847.90,530.50)" text-anchor="middle">4</text>
<line x1="913.20" y1="502.80" x2="913.20" y2="508.80" stroke="#000" stroke-width="1.6"/>
<text transform="translate(913.20,530.50)" text-anchor="middle">5</text>
<line x1="978.50" y1="502.80" x2="978.50" y2="508.80" stroke="#000" stroke-width="1.6"/>
<text transform="translate(978.50,530.50)" text-anchor="middle">6</text>
<line x1="1043.80" y1="502.80" x2="1043.80" y2="508.80" stroke="#000" stroke-width="1.6"/>
<text transform="translate(1043.80,530.50)" text-anchor="middle">7</text>
<line x1="580.70" y1="502.80" x2="586.70" y2="502.80" stroke="#000" stroke-width="1.6"/>
<line x1="580.70" y1="403.74" x2="586.70" y2="403.74" stroke="#000" stroke-width="1.6"/>
<line x1="580.70" y1="304.68" x2="586.70" y2="304.68" stroke="#000" stroke-width="1.6"/>
<line x1="580.70" y1="205.62" x2="586.70" y2="205.62" stroke="#000" stroke-width="1.6"/>
<line x1="580.70" y1="106.56" x2="586.70" y2="106.56" stroke="#000" stroke-width="1.6"/>
<line x1="580.70" y1="7.50" x2="586.70" y2="7.50" stroke="#000" stroke-width="1.6"/>
<text transform="translate(759.28,557.00)">QEC cycle,</text>
<text transform="translate(875.88,557.00) scale(1.15,1.05)" font-style="italic" class="m">t</text>
<text transform="translate(16.30,401.40) rotate(-90)" textLength="235.7" lengthAdjust="spacing">Logical error probability,</text>
<text transform="translate(16.80,159.40) rotate(-90)" font-style="italic" class="m">P</text>
<text transform="translate(20.30,145.40) rotate(-90)" font-style="italic" class="m" style="font-size:15.4px">L</text>
<text transform="translate(15.00,135.80) rotate(-90)">(</text>
<text transform="translate(16.50,126.75) rotate(-90) scale(1.15,1)" font-style="italic" class="m">t</text>
<text transform="translate(15.00,118.30) rotate(-90)">)</text>
</svg></div></body></html>
